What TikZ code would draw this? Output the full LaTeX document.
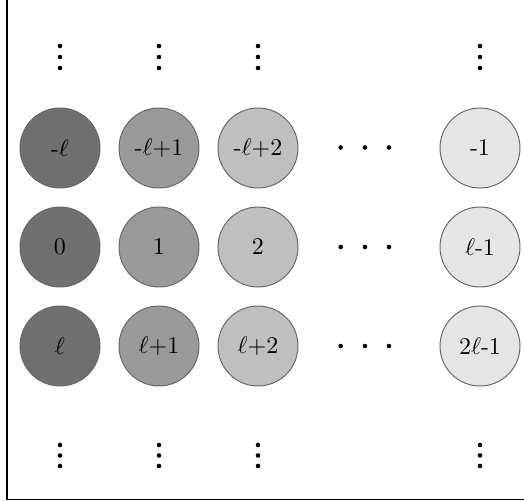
\documentclass[tikz,border=0pt]{standalone}
\begin{document}
\begin{tikzpicture}[x=0.4167pt,y=-0.4167pt,
  cell/.style={circle,draw=black!60,line width=0.4pt,minimum size=80*0.4167pt,inner sep=0pt,font=\normalsize},
  c1/.style={cell,fill=black!56},
  c2/.style={cell,fill=black!40},
  c3/.style={cell,fill=black!25},
  c4/.style={cell,fill=black!10},
  dot/.style={circle,fill=black,inner sep=0pt,minimum size=4.6*0.4167pt}]
\useasboundingbox (0,0) rectangle (524,501);
\coordinate (tl) at (7,0);
\coordinate (bl) at (7,499.5);
\coordinate (br) at (524,499.5);
\draw[line width=0.6pt] (tl) -- (bl) -- (br);
% rows
\node[c1] (a1) at (60,148) {-$\ell$};
\node[c2] (a2) at (159,148) {-$\ell$+1};
\node[c3] (a3) at (258,148) {-$\ell$+2};
\node[c4] (a4) at (480,148) {-1};
\node[c1] (b1) at (60,247) {0};
\node[c2] (b2) at (159,247) {1};
\node[c3] (b3) at (258,247) {2};
\node[c4] (b4) at (480,247) {$\ell$-1};
\node[c1] (d1) at (60,346) {$\ell$};
\node[c2] (d2) at (159,346) {$\ell$+1};
\node[c3] (d3) at (258,346) {$\ell$+2};
\node[c4] (d4) at (480,346) {2$\ell$-1};
% horizontal dots
\foreach \r/\y in {a/147.5,b/247,d/346}{
  \node[dot] (\r h1) at (340.7,\y) {};
  \node[dot] (\r h2) at (365,\y) {};
  \node[dot] (\r h3) at (389,\y) {};
}
% vertical dots
\foreach \c/\x in {1/60,2/159,3/258,4/480}{
  \node[dot] (t\c v1) at (\x,46) {};
  \node[dot] (t\c v2) at (\x,57) {};
  \node[dot] (t\c v3) at (\x,68) {};
  \node[dot] (u\c v1) at (\x,445) {};
  \node[dot] (u\c v2) at (\x,455.5) {};
  \node[dot] (u\c v3) at (\x,466) {};
}
\end{tikzpicture}
\end{document}
